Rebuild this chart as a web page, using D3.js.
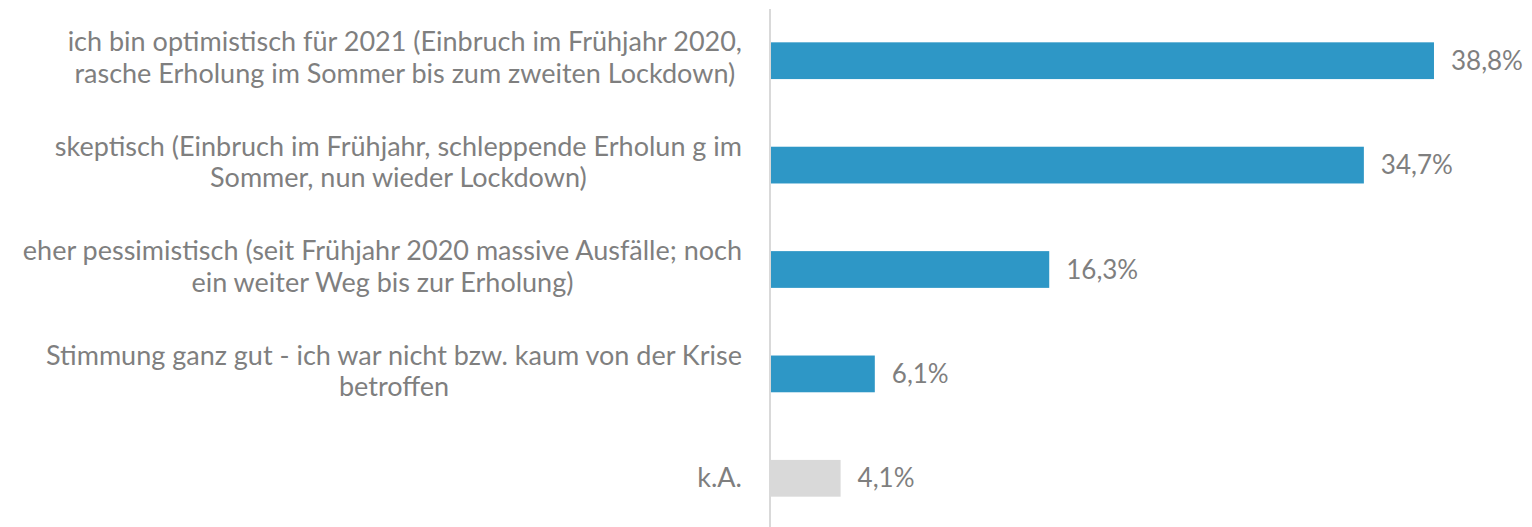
<!DOCTYPE html>
<html>
<head>
<meta charset="utf-8">
<script src="https://cdn.jsdelivr.net/npm/d3@7"></script>
<style>
  html, body { margin: 0; padding: 0; background: #ffffff; }
  svg { display: block; }
</style>
</head>
<body>
<svg id="chart" width="1532" height="527"></svg>
<script>
// ---- data ----
const categories = [
  "ich bin optimistisch für 2021 (Einbruch im Frühjahr 2020,|rasche Erholung im Sommer bis zum zweiten Lockdown)",
  "skeptisch (Einbruch im Frühjahr, schleppende Erholun g im|Sommer, nun wieder Lockdown)",
  "eher pessimistisch (seit Frühjahr 2020 massive Ausfälle; noch|ein weiter Weg bis zur Erholung)",
  "Stimmung ganz gut - ich war nicht bzw. kaum von der Krise|betroffen",
  "k.A."
];
const values = [38.8, 34.7, 16.3, 6.1, 4.1];
const valueLabels = ["38,8%", "34,7%", "16,3%", "6,1%", "4,1%"];
const barColors = ["#2E97C6", "#2E97C6", "#2E97C6", "#2E97C6", "#D9D9D9"];

// ---- layout ----
const axisX = 770.5;
const fontFamily = "Lato, 'Open Sans', sans-serif";
const fontSize = 27;
const valueFontSize = 26;
const textColor = "#7f7f7f";
const labelRight = 742;

const svg = d3.select("#chart");

const y = d3.scaleBand()
  .domain(categories)
  .range([8.5, 530.5])
  .paddingInner(0.648)
  .paddingOuter(0.324);

const x = d3.scaleLinear()
  .domain([0, 40])
  .range([axisX, axisX + 684]);

// bars
svg.append("g").selectAll("rect")
  .data(categories)
  .join("rect")
  .attr("x", x(0))
  .attr("y", d => y(d))
  .attr("width", (d, i) => x(values[i]) - x(0))
  .attr("height", y.bandwidth())
  .attr("fill", (d, i) => barColors[i]);

// axis line
const axis = d3.axisLeft(y).tickSize(0).tickSizeOuter(0).tickFormat("");
const ag = svg.append("g").attr("transform", `translate(${axisX - 1},0)`).call(axis);
ag.select(".domain").attr("stroke", "#d9d9d9").attr("stroke-width", 2);
ag.selectAll(".tick").remove();

// category labels: block right-aligned, lines centered within block
const lineH = 31.5;
const lg = svg.append("g")
  .attr("font-family", fontFamily)
  .attr("font-size", fontSize)
  .attr("fill", textColor)
  .attr("text-anchor", "middle");

categories.forEach(c => {
  const lines = c.split("|");
  const cy = y(c) + y.bandwidth() / 2;
  const t = lg.append("text");
  const spans = lines.map((ln, j) =>
    t.append("tspan")
      .attr("y", lines.length > 1 ? cy + 6.5 + (j - (lines.length - 1) / 2) * lineH : cy + 8.5)
      .text(ln)
  );
  const maxW = d3.max(spans, s => s.node().getComputedTextLength());
  spans.forEach(s => s.attr("x", labelRight - maxW / 2));
});

// value labels
svg.append("g")
  .attr("font-family", fontFamily)
  .attr("font-size", valueFontSize)
  .attr("fill", textColor)
  .selectAll("text")
  .data(categories)
  .join("text")
  .attr("x", (d, i) => x(values[i]) + 17)
  .attr("y", d => y(d) + y.bandwidth() / 2 + 9)
  .text((d, i) => valueLabels[i]);
</script>
</body>
</html>
